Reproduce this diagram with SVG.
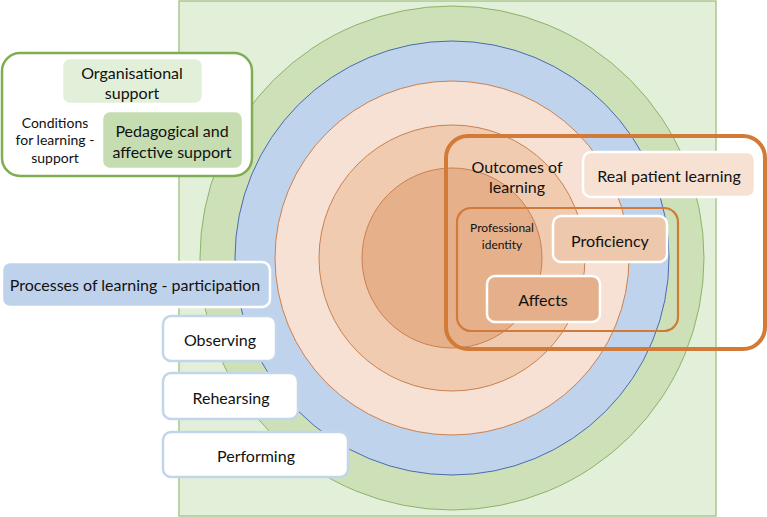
<svg xmlns="http://www.w3.org/2000/svg" width="767" height="517" viewBox="0 0 767 517">
<style>
text{font-family:Lato,"Open Sans","Liberation Sans",sans-serif;fill:#111;text-anchor:middle;dominant-baseline:central}
.t16{font-size:16px}
.t13{font-size:14px}
.t11{font-size:12px}
.wbox{stroke:#fff;stroke-width:2.5}
.pbox{fill:#fff;stroke:#c3d5ea;stroke-width:2.5}
.ring{stroke-width:1}
</style>
<g id="background">
<rect x="179" y="1" width="537" height="515" fill="#e2efd9" stroke="#a9c78f" stroke-width="1.5"/>
<circle class="ring" cx="452" cy="258" r="252" fill="#cde0b7" stroke="#8db36a"/>
<circle class="ring" cx="452" cy="258" r="217" fill="#c0d3ed" stroke="#4a6cae"/>
<circle class="ring" cx="452" cy="258" r="177" fill="#f6e1d4" stroke="#c98150"/>
<circle class="ring" cx="452" cy="258" r="133" fill="#f0cbb0" stroke="#c98150"/>
<circle class="ring" cx="452" cy="258" r="90" fill="#e6b08b" stroke="#c98150"/>
</g>
<g id="conditions">
<rect x="2" y="53" width="250" height="123" rx="18" fill="#fff" stroke="#7fae52" stroke-width="2.5"/>
<text class="t13" x="55" y="122">Conditions</text>
<text class="t13" x="55" y="139">for learning -</text>
<text class="t13" x="55" y="157">support</text>
</g>
<g id="organisational">
<rect class="wbox" x="62" y="58" width="141" height="46" rx="8" fill="#e2efd9"/>
<text class="t16" x="132" y="72">Organisational</text>
<text class="t16" x="132" y="92">support</text>
</g>
<g id="pedagogical">
<rect class="wbox" x="102" y="111" width="141" height="58" rx="8" fill="#c6dcb1"/>
<text class="t16" x="172" y="130">Pedagogical and</text>
<text class="t16" x="172" y="151">affective support</text>
</g>
<g id="processes">
<rect class="wbox" x="2" y="262" width="268" height="45" rx="8" fill="#bfd2ec"/>
<text class="t16" x="135" y="284">Processes of learning - participation</text>
</g>
<g id="observing">
<rect class="pbox" x="163" y="316" width="113" height="45" rx="8"/>
<text class="t16" x="220" y="339">Observing</text>
</g>
<g id="rehearsing">
<rect class="pbox" x="163" y="373" width="135" height="46" rx="8"/>
<text class="t16" x="231" y="397">Rehearsing</text>
</g>
<g id="performing">
<rect class="pbox" x="163" y="432" width="185" height="45" rx="8"/>
<text class="t16" x="256" y="455">Performing</text>
</g>
<g id="outcomes">
<rect x="446" y="136" width="319" height="213" rx="22" fill="none" stroke="#d27a38" stroke-width="4"/>
<text class="t16" x="517" y="166">Outcomes of</text>
<text class="t16" x="517" y="186">learning</text>
</g>
<g id="real-patient">
<rect class="wbox" x="583" y="152" width="172" height="45" rx="8" fill="#f6e1d3"/>
<text class="t16" x="669" y="175">Real patient learning</text>
</g>
<g id="professional-identity">
<rect x="457" y="208" width="221" height="123" rx="14" fill="none" stroke="#d27a38" stroke-width="2.2"/>
<text class="t11" x="502" y="227">Professional</text>
<text class="t11" x="502" y="244">identity</text>
</g>
<g id="proficiency">
<rect class="wbox" x="553" y="216" width="114" height="46" rx="8" fill="#eec8ad"/>
<text class="t16" x="610" y="240">Proficiency</text>
</g>
<g id="affects">
<rect class="wbox" x="487" y="276" width="113" height="46" rx="8" fill="#e4af8a"/>
<text class="t16" x="543" y="299">Affects</text>
</g>
<g id="connectors"></g>
</svg>
